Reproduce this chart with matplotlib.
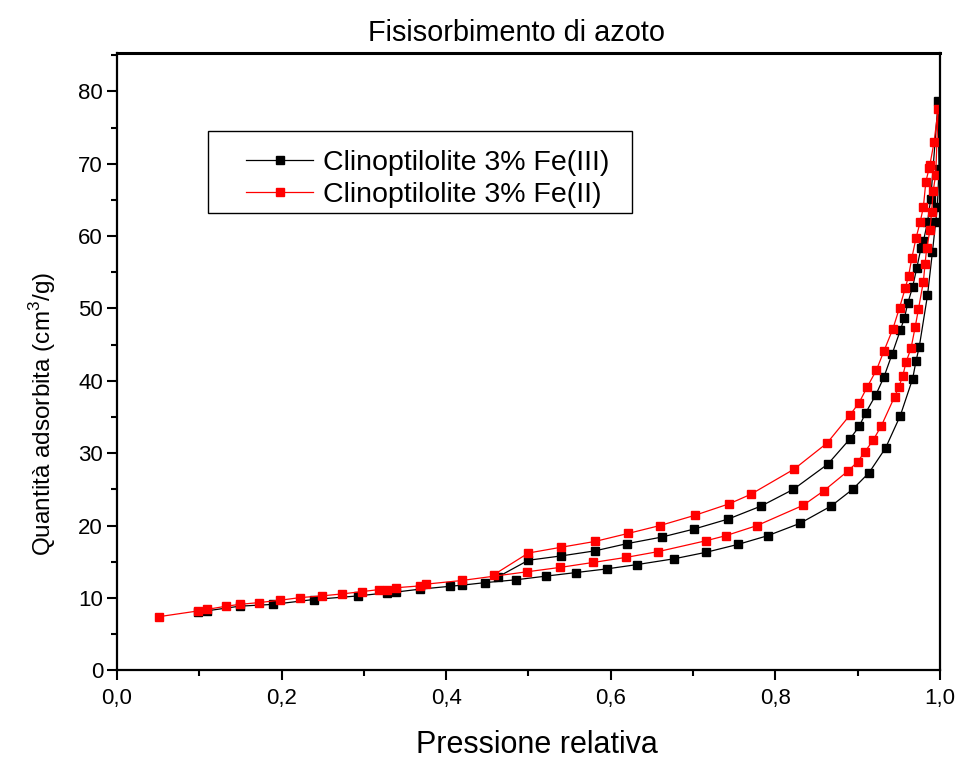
import matplotlib
matplotlib.use("Agg")
import matplotlib.pyplot as plt
from matplotlib.patches import Rectangle
from matplotlib.ticker import MultipleLocator, FuncFormatter

plt.rcParams['font.family'] = ['Liberation Sans', 'DejaVu Sans']
plt.rcParams['mathtext.fontset'] = 'custom'
plt.rcParams['mathtext.rm'] = 'Liberation Sans'

# Fe(III) sample: adsorption branch (increasing p/p0), then desorption branch
p_ads_fe3 = [0.099, 0.109, 0.149, 0.190, 0.239, 0.293, 0.328, 0.339, 0.368, 0.405,
             0.419, 0.447, 0.485, 0.521, 0.558, 0.595, 0.632, 0.677, 0.716, 0.755,
             0.791, 0.830, 0.868, 0.894, 0.914, 0.934, 0.952, 0.967, 0.971, 0.975,
             0.985, 0.991, 0.995, 0.997, 0.999, 0.998]
q_ads_fe3 = [8.0, 8.2, 8.85, 9.1, 9.77, 10.27, 10.7, 10.8, 11.2, 11.6,
             11.75, 12.1, 12.5, 13.0, 13.5, 14.0, 14.6, 15.4, 16.3, 17.4,
             18.6, 20.3, 22.7, 25.0, 27.3, 30.7, 35.2, 40.3, 42.7, 44.7,
             51.8, 57.8, 62.0, 64.0, 69.3, 78.7]
p_des_fe3 = [0.989, 0.985, 0.980, 0.977, 0.972, 0.967, 0.961, 0.957, 0.952, 0.942,
             0.932, 0.922, 0.910, 0.902, 0.891, 0.864, 0.822, 0.783, 0.743, 0.701,
             0.662, 0.620, 0.581, 0.540, 0.500, 0.463]
q_des_fe3 = [65.2, 61.9, 59.3, 58.3, 55.6, 53.0, 50.7, 48.7, 47.0, 43.7,
             40.5, 38.0, 35.6, 33.7, 32.0, 28.5, 25.0, 22.7, 20.9, 19.5,
             18.4, 17.5, 16.5, 15.8, 15.2, 12.9]

# Fe(II) sample
p_ads_fe2 = [0.051, 0.099, 0.109, 0.133, 0.149, 0.173, 0.198, 0.223, 0.249, 0.274,
             0.298, 0.319, 0.328, 0.339, 0.368, 0.376, 0.419, 0.498, 0.538, 0.579,
             0.619, 0.658, 0.716, 0.740, 0.778, 0.834, 0.859, 0.888, 0.900, 0.909,
             0.919, 0.929, 0.945, 0.950, 0.955, 0.959, 0.965, 0.970, 0.974, 0.980,
             0.982, 0.984, 0.988, 0.990, 0.992, 0.995, 0.998]
q_ads_fe2 = [7.4, 8.2, 8.4, 8.85, 9.1, 9.35, 9.67, 10.04, 10.27, 10.55,
             10.87, 11.15, 11.15, 11.4, 11.65, 11.9, 12.4, 13.6, 14.2, 14.9,
             15.6, 16.4, 17.9, 18.6, 20.0, 22.8, 24.8, 27.5, 28.8, 30.2,
             31.8, 33.8, 37.8, 39.1, 40.7, 42.6, 44.5, 47.4, 49.9, 53.7,
             56.1, 58.3, 60.8, 63.3, 66.3, 68.5, 77.6]
p_des_fe2 = [0.993, 0.988, 0.987, 0.983, 0.980, 0.976, 0.971, 0.966, 0.962, 0.958,
             0.951, 0.943, 0.932, 0.923, 0.912, 0.902, 0.891, 0.863, 0.823, 0.770,
             0.744, 0.702, 0.660, 0.621, 0.581, 0.540, 0.500, 0.458]
q_des_fe2 = [73.0, 69.9, 69.4, 67.5, 64.0, 61.9, 59.7, 57.0, 54.5, 52.8,
             50.1, 47.2, 44.1, 41.5, 39.2, 37.0, 35.3, 31.4, 27.8, 24.3,
             23.0, 21.4, 20.0, 18.9, 17.8, 17.0, 16.2, 13.2]

labels = ['Clinoptilolite 3% Fe(III)', 'Clinoptilolite 3% Fe(II)']
colors = ['black', '#ff0000']

fig = plt.figure(figsize=(9.59, 7.59), dpi=100)
ax = fig.add_axes([0.122, 0.117, 0.858, 0.813])

series = [(p_ads_fe3 + p_des_fe3, q_ads_fe3 + q_des_fe3),
          (p_ads_fe2 + p_des_fe2, q_ads_fe2 + q_des_fe2)]
for (x, y), lab, c in zip(series, labels, colors):
    ax.plot(x, y, color=c, lw=0.9, marker='s', ms=5.4, mec=c, mfc=c, label=lab)

ax.set_xlim(0, 1.0)
ax.set_ylim(0, 85.3)
ax.xaxis.set_major_locator(MultipleLocator(0.2))
ax.xaxis.set_minor_locator(MultipleLocator(0.1))
ax.yaxis.set_major_locator(MultipleLocator(10))
ax.yaxis.set_minor_locator(MultipleLocator(5))
ax.xaxis.set_major_formatter(FuncFormatter(lambda v, _: f"{v:.1f}".replace('.', ',')))
ax.yaxis.set_major_formatter(FuncFormatter(lambda v, _: f"{v:.0f}"))

ax.tick_params(which='both', direction='out', top=False, right=False, width=1.5)
ax.tick_params(which='major', length=7, labelsize=16)
ax.tick_params(axis='x', which='major', pad=6)
ax.tick_params(axis='y', which='major', pad=3)
ax.tick_params(which='minor', length=4)
for s in ['left', 'bottom', 'right']:
    ax.spines[s].set_linewidth(1.6)
ax.spines['top'].set_linewidth(2.2)

ax.set_xlabel('Pressione relativa', fontsize=22, va='center')
ax.xaxis.set_label_coords(0.510, -0.121)
ax.set_ylabel('Quantità adsorbita (cm$^3$/g)', fontsize=17.5)
ax.yaxis.set_label_coords(-0.0715, 0.416)
ax.set_title('Fisisorbimento di azoto', fontsize=20.8, pad=9, x=0.4854)

# legend box drawn separately so the entries can sit with a wider left margin
ax.add_patch(Rectangle((0.1106, 0.7407), 0.5152, 0.1329, transform=ax.transAxes,
                       fill=True, facecolor='white', edgecolor='black', lw=1.0,
                       zorder=1))
leg = ax.legend(loc='upper left', bbox_to_anchor=(0.157, 0.843), fontsize=20.5,
                numpoints=1, frameon=False, handlelength=2.35, borderpad=0,
                labelspacing=0.2, handletextpad=0.35, borderaxespad=0)
leg.set_zorder(2)

fig.savefig('out.png', dpi=100)
